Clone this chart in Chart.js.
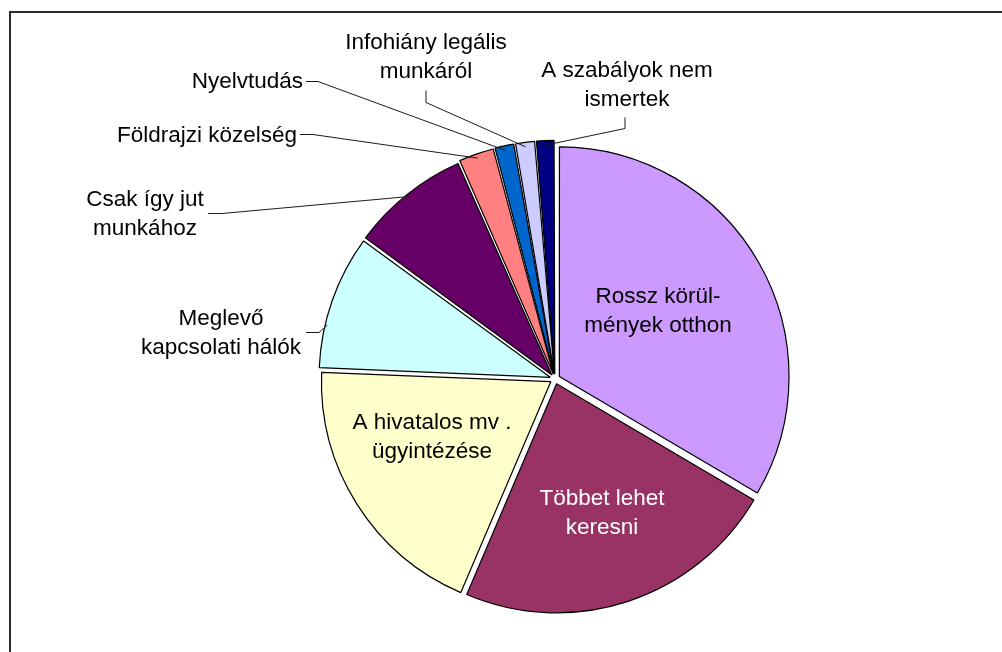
<!DOCTYPE html>
<html>
<head>
<meta charset="utf-8">
<script src="https://cdn.jsdelivr.net/npm/chart.js@4.4.1/dist/chart.umd.min.js"></script>
<style>
  html, body { margin: 0; padding: 0; background: #fff; overflow: hidden; }
  #frame { position: absolute; left: 9px; top: 11px; width: 1200px; height: 800px;
           border-left: 2px solid #2b2b2b; border-top: 2px solid #2b2b2b; }
  #wrap { position: absolute; left: 0; top: 0; width: 1002px; height: 652px; }
</style>
</head>
<body>
<div id="frame"></div>
<div id="wrap"><canvas id="pie-chart" width="1002" height="652"></canvas></div>
<script>
  // Adatok
  const categories = [
    'Rossz körülmények otthon', 'Többet lehet keresni', 'A hivatalos mv . ügyintézése',
    'Meglevő kapcsolati hálók', 'Csak így jut munkához', 'Földrajzi közelség',
    'Nyelvtudás', 'Infohiány legális munkáról', 'A szabályok nem ismertek'
  ];
  const values = [33.4, 22.9, 19.2, 9.4, 8.3, 2.5, 1.4, 1.4, 1.3];
  const labelLines = [
    ['Rossz körül-', 'mények otthon'],
    ['Többet lehet', 'keresni'],
    ['A hivatalos mv .', 'ügyintézése'],
    ['Meglevő', 'kapcsolati hálók'],
    ['Csak így jut', 'munkához'],
    ['Földrajzi közelség'],
    ['Nyelvtudás'],
    ['Infohiány legális', 'munkáról'],
    ['A szabályok nem', 'ismertek']
  ];
  const colors = ['#CC99FF', '#993366', '#FFFFCC', '#CCFFFF', '#660066',
                  '#FF8080', '#0066CC', '#CCCCFF', '#000080'];

  // címkék elhelyezése (szöveg x, első alapvonal y, igazítás, szín, vezetővonal kezdete + töréspont)
  const labelLayout = [
    { x: 658, y: 303, align: 'center', color: '#000' },
    { x: 602, y: 505, align: 'center', color: '#fff' },
    { x: 432, y: 429, align: 'center', color: '#000' },
    { x: 221, y: 325, align: 'center', color: '#000', line: [[306, 332], [319, 332]], shift: 0.18 },
    { x: 145, y: 206, align: 'center', color: '#000', line: [[208, 213], [222, 213]] },
    { x: 297, y: 142, align: 'right', color: '#000', line: [[300, 134], [313, 134]] },
    { x: 303, y: 88, align: 'right', color: '#000', line: [[306, 81], [318, 81]] },
    { x: 426, y: 49, align: 'center', color: '#000', line: [[426, 90], [426, 102]] },
    { x: 627, y: 77, align: 'center', color: '#000', line: [[625, 117], [625, 128]] }
  ];
  const lineHeight = 28.5;

  const pieLabels = {
    id: 'pieLabels',
    afterDatasetsDraw(chart) {
      const ctx = chart.ctx;
      const meta = chart.getDatasetMeta(0);
      ctx.save();
      ctx.font = '22.5px "Liberation Sans", Arial, sans-serif';
      ctx.textBaseline = 'alphabetic';
      meta.data.forEach((arc, i) => {
        const lay = labelLayout[i];
        const p = arc.getProps(['x', 'y', 'startAngle', 'endAngle', 'outerRadius'], true);
        if (lay.line) {
          // vezetővonal a cikk külső ívéig (az arc a rajzoláskor offset/4-gyel tolódik)
          const mid = p.startAngle + (p.endAngle - p.startAngle) * (0.5 - (lay.shift || 0));
          const half = (p.startAngle + p.endAngle) / 2;
          const off = arc.options.offset / 4;
          const ax = p.x + Math.cos(half) * off + Math.cos(mid) * p.outerRadius;
          const ay = p.y + Math.sin(half) * off + Math.sin(mid) * p.outerRadius;
          ctx.strokeStyle = '#1a1a1a';
          ctx.lineWidth = 1;
          ctx.beginPath();
          ctx.moveTo(lay.line[0][0], lay.line[0][1] + 0.5);
          ctx.lineTo(lay.line[1][0], lay.line[1][1] + 0.5);
          ctx.lineTo(ax, ay);
          ctx.stroke();
        }
        ctx.fillStyle = lay.color;
        ctx.textAlign = lay.align;
        labelLines[i].forEach((t, k) => {
          ctx.fillText(t, lay.x, lay.y + k * lineHeight);
        });
      });
      ctx.restore();
    }
  };

  const config = {
    type: 'pie',
    data: {
      labels: categories,
      datasets: [{
        data: values,
        backgroundColor: colors,
        borderColor: '#000',
        borderWidth: 1.2,
        offset: 20
      }]
    },
    options: {
      responsive: false,
      animation: false,
      radius: 229,
      layout: { padding: { left: 108, right: 0, top: 106, bottom: 0 } },
      plugins: {
        legend: { display: false },
        tooltip: { enabled: false }
      }
    },
    plugins: [pieLabels]
  };

  const ctx = document.getElementById('pie-chart').getContext('2d');
  const pieChart = new Chart(ctx, config);
</script>
</body>
</html>
